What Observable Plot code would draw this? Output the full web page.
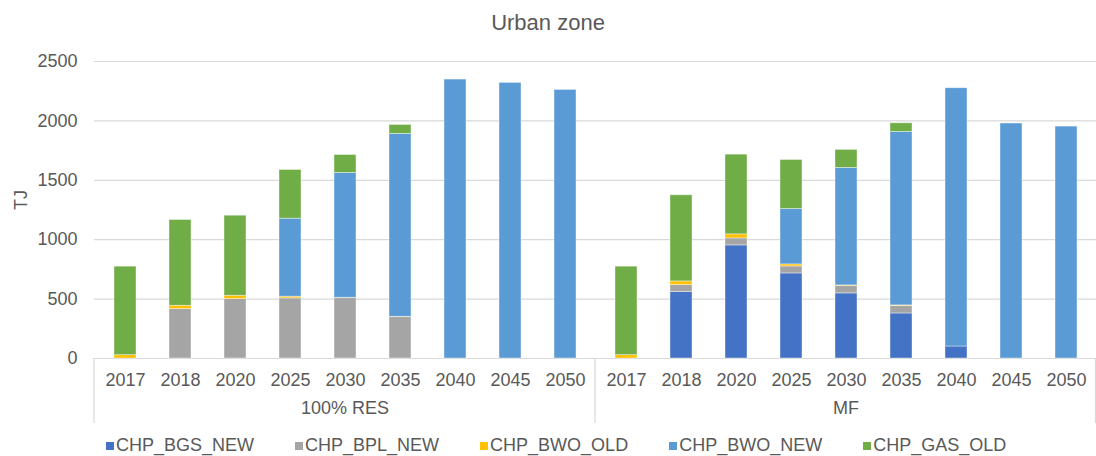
<!DOCTYPE html>
<html>
<head>
<meta charset="utf-8">
<script src="https://cdn.jsdelivr.net/npm/d3@7"></script>
<script src="https://cdn.jsdelivr.net/npm/@observablehq/plot@0.6"></script>
<style>
  html, body { margin: 0; padding: 0; background: #fff; }
  body { width: 1096px; height: 456px; overflow: hidden; font-family: "Liberation Sans", Arial, sans-serif; color: #595959; }
  #title { height: 40px; line-height: 46px; text-align: center; font-size: 22px; white-space: nowrap; }
  #legend { height: 21px; display: flex; align-items: center; padding-left: 106px; gap: 41px; font-size: 18px; white-space: nowrap; }
  #legend .item { display: flex; align-items: center; }
  #legend .sw { width: 8px; height: 8px; margin-right: 2px; display: inline-block; }
</style>
</head>
<body>
<div id="title">Urban zone</div>
<div id="chart"></div>
<div id="legend"></div>
<script>
const years = ["2017","2018","2020","2025","2030","2035","2040","2045","2050"];
const scenarios = ["100% RES", "MF"];
const techs = ["CHP_BGS_NEW", "CHP_BPL_NEW", "CHP_BWO_OLD", "CHP_BWO_NEW", "CHP_GAS_OLD"];
const colors = ["#4472C4", "#A5A5A5", "#FFC000", "#5B9BD5", "#70AD47"];

// values per tech: first 9 = 100% RES, next 9 = MF (years order)
const bgsNew = [0, 0, 0, 0, 0, 0, 0, 0, 0,     0, 559, 952, 716, 548, 379, 101, 0, 0];
const bplNew = [0, 416, 500, 506, 508, 348, 0, 0, 0,   0, 59, 59, 59, 62, 62, 0, 0, 0];
const bwoOld = [28, 28, 28, 14, 3, 3, 0, 0, 0,   28, 31, 34, 17, 5, 6, 0, 0, 0];
const bwoNew = [0, 0, 0, 657, 1051, 1539, 2348, 2320, 2261,   0, 0, 0, 466, 989, 1460, 2174, 1978, 1952];
const gasOld = [745, 722, 674, 410, 151, 76, 0, 0, 0,   745, 725, 671, 413, 152, 73, 0, 0, 0];
const yTicks = [0, 500, 1000, 1500, 2000, 2500];

const series = [bgsNew, bplNew, bwoOld, bwoNew, gasOld];
const data = [];
series.forEach((vals, ti) => {
  vals.forEach((v, i) => {
    if (v > 0) data.push({
      scenario: scenarios[Math.floor(i / years.length)],
      year: years[i % years.length],
      tech: techs[ti],
      value: v
    });
  });
});

const plot = Plot.plot({
  width: 1096,
  height: 395,
  marginTop: 21,
  marginBottom: 77,
  marginLeft: 93,
  marginRight: 0,
  style: { fontSize: "18px", fontFamily: "'Liberation Sans', Arial, sans-serif", color: "#595959", background: "white" },
  fx: { domain: scenarios, padding: 0, axis: null },
  x: { domain: years, paddingInner: 0.6, paddingOuter: 0.3, axis: null },
  y: { domain: [0, 2500], axis: null },
  color: { domain: techs, range: colors },
  marks: [
    Plot.gridY(yTicks, { stroke: "#d9d9d9", strokeOpacity: 1, strokeWidth: 1.2 }),
    Plot.barY(data, {
      fx: "scenario", x: "year", y: "value", fill: "tech",
      stroke: "white", strokeOpacity: 0.5, strokeWidth: 0.8
    }),
    Plot.axisX({ tickSize: 0, tickPadding: 15, fontSize: 18, label: null }),
    Plot.axisY(yTicks, { tickSize: 0, tickPadding: 17, fontSize: 18, label: null, tickFormat: d3.format("d") }),
    Plot.text(scenarios, { fx: d => d, text: d => d, frameAnchor: "bottom", dy: 55, fontSize: 18, fill: "#595959" }),
    Plot.text(["TJ"], { fx: () => scenarios[0], text: d => d, frameAnchor: "left", dx: -73, rotate: -90, fontSize: 18, fill: "#595959" })
  ]
});

// category group separators drawn from the library's scales
const fxs = plot.scale("fx");
const ys = plot.scale("y");
const y0 = ys.apply(0);
const edges = scenarios.map(s => fxs.apply(s));
edges.push(fxs.apply(scenarios[scenarios.length - 1]) + fxs.bandwidth - 0.5);
const svg = d3.select(plot);
edges.forEach(x => {
  svg.append("line")
    .attr("x1", x).attr("x2", x)
    .attr("y1", y0).attr("y2", y0 + 65)
    .attr("stroke", "#d9d9d9").attr("stroke-width", 1.2);
});

document.getElementById("chart").appendChild(plot);

const legend = d3.select("#legend");
techs.forEach((t, i) => {
  const it = legend.append("div").attr("class", "item");
  it.append("span").attr("class", "sw").style("background", colors[i]);
  it.append("span").text(t);
});
</script>
</body>
</html>
